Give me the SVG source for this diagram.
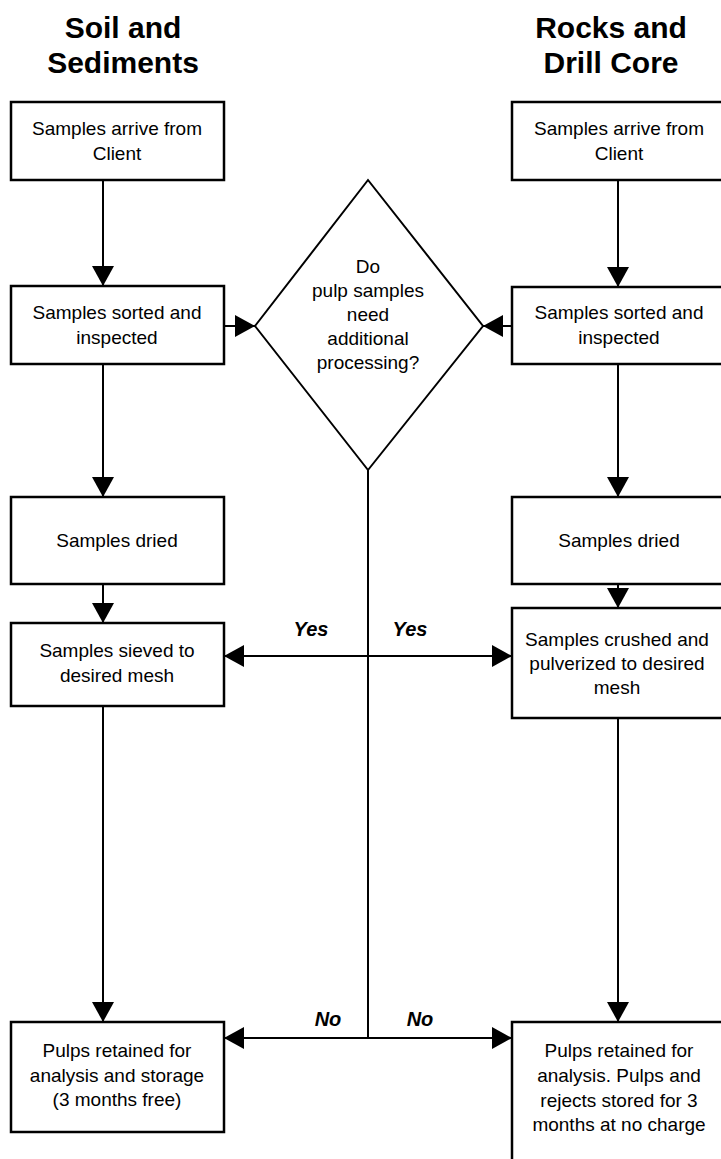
<svg xmlns="http://www.w3.org/2000/svg" width="721" height="1159" viewBox="0 0 721 1159">
<style>
.box{fill:#fff;stroke:#000;stroke-width:2.5}
.dia{fill:#fff;stroke:#000;stroke-width:2}
.t{font-family:"Liberation Sans",Arial,sans-serif;font-size:19px;text-anchor:middle;fill:#000}
.h{font-family:"Liberation Sans",Arial,sans-serif;font-size:30px;font-weight:bold;text-anchor:middle;fill:#000}
.lab{font-family:"Liberation Sans",Arial,sans-serif;font-size:20px;font-weight:bold;font-style:italic;text-anchor:middle;fill:#000}
.c{fill:none;stroke:#000;stroke-width:2}
</style>
<defs>
<marker id="ah" viewBox="0 0 20 22" refX="20" refY="11" markerWidth="20" markerHeight="22" markerUnits="userSpaceOnUse" orient="auto-start-reverse">
<path d="M0,0 L20,11 L0,22 z" fill="#000"/>
</marker>
</defs>
<g id="titles">
<text class="h" x="123" y="38">Soil and</text>
<text class="h" x="123" y="73">Sediments</text>
<text class="h" x="611" y="38">Rocks and</text>
<text class="h" x="611" y="73">Drill Core</text>
</g>
<g id="connectors">
<line class="c" x1="103" y1="180" x2="103" y2="286" marker-end="url(#ah)"/>
<line class="c" x1="103" y1="364" x2="103" y2="497" marker-end="url(#ah)"/>
<line class="c" x1="103" y1="584" x2="103" y2="623" marker-end="url(#ah)"/>
<line class="c" x1="103" y1="706" x2="103" y2="1022" marker-end="url(#ah)"/>
<line class="c" x1="618" y1="180" x2="618" y2="287" marker-end="url(#ah)"/>
<line class="c" x1="618" y1="364" x2="618" y2="497" marker-end="url(#ah)"/>
<line class="c" x1="618" y1="584" x2="618" y2="608" marker-end="url(#ah)"/>
<line class="c" x1="618" y1="718" x2="618" y2="1022" marker-end="url(#ah)"/>
<line class="c" x1="224" y1="326" x2="255" y2="326" marker-end="url(#ah)"/>
<line class="c" x1="512" y1="326" x2="483" y2="326" marker-end="url(#ah)"/>
<line class="c" x1="368" y1="470" x2="368" y2="1038"/>
<line class="c" x1="224" y1="656" x2="512" y2="656" marker-start="url(#ah)" marker-end="url(#ah)"/>
<line class="c" x1="224" y1="1038" x2="512" y2="1038" marker-start="url(#ah)" marker-end="url(#ah)"/>
<text class="lab" x="311" y="636">Yes</text>
<text class="lab" x="410" y="636">Yes</text>
<text class="lab" x="328" y="1026">No</text>
<text class="lab" x="420" y="1026">No</text>
</g>
<g id="decision">
<polygon class="dia" points="368,180 483,326 368,470 255,326"/>
<text class="t" x="368" y="273">Do</text>
<text class="t" x="368" y="297">pulp samples</text>
<text class="t" x="368" y="321">need</text>
<text class="t" x="368" y="345">additional</text>
<text class="t" x="368" y="369">processing?</text>
</g>
<g id="l1"><rect class="box" x="11" y="102" width="213" height="78"/>
<text class="t" x="117" y="135">Samples arrive from</text><text class="t" x="117" y="160">Client</text></g>
<g id="l2"><rect class="box" x="11" y="286" width="213" height="78"/>
<text class="t" x="117" y="319">Samples sorted and</text><text class="t" x="117" y="344">inspected</text></g>
<g id="l3"><rect class="box" x="11" y="497" width="213" height="87"/>
<text class="t" x="117" y="547">Samples dried</text></g>
<g id="l4"><rect class="box" x="11" y="623" width="213" height="83"/>
<text class="t" x="117" y="657">Samples sieved to</text><text class="t" x="117" y="682">desired mesh</text></g>
<g id="l5"><rect class="box" x="11" y="1022" width="213" height="110"/>
<text class="t" x="117" y="1057">Pulps retained for</text><text class="t" x="117" y="1082">analysis and storage</text><text class="t" x="117" y="1106">(3 months free)</text></g>
<g id="r1"><rect class="box" x="512" y="102" width="213" height="78"/>
<text class="t" x="619" y="135">Samples arrive from</text><text class="t" x="619" y="160">Client</text></g>
<g id="r2"><rect class="box" x="512" y="287" width="213" height="77"/>
<text class="t" x="619" y="319">Samples sorted and</text><text class="t" x="619" y="344">inspected</text></g>
<g id="r3"><rect class="box" x="512" y="497" width="213" height="87"/>
<text class="t" x="619" y="547">Samples dried</text></g>
<g id="r4"><rect class="box" x="512" y="608" width="213" height="110"/>
<text class="t" x="617" y="646">Samples crushed and</text><text class="t" x="617" y="670">pulverized to desired</text><text class="t" x="617" y="694">mesh</text></g>
<g id="r5"><rect class="box" x="512" y="1022" width="213" height="150"/>
<text class="t" x="619" y="1057">Pulps retained for</text><text class="t" x="619" y="1082">analysis.  Pulps and</text><text class="t" x="619" y="1107">rejects stored for 3</text><text class="t" x="619" y="1131">months at no charge</text></g>
</svg>
